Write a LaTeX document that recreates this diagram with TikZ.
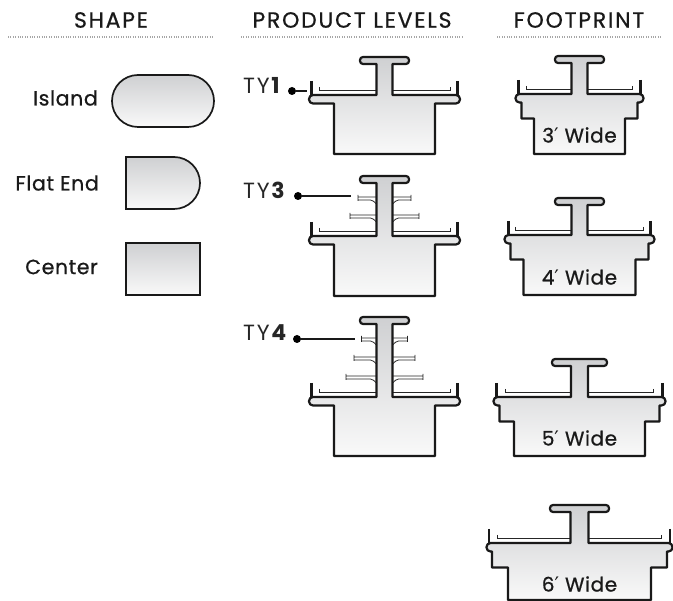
\documentclass[tikz,border=0pt]{standalone}
\usepackage{fontspec}
\setmainfont{Poppins}
\newfontfamily\headfont[LetterSpace=8,FakeBold=0.7]{Poppins}
\newfontfamily\sidefont[LetterSpace=3,FakeBold=0.7]{Poppins}
\newfontfamily\tyfont[LetterSpace=8]{Poppins}
\newfontfamily\primefont{DejaVu Sans}
\definecolor{toneTop}{HTML}{CFD0D2}
\definecolor{toneBot}{HTML}{F9F9F9}
\tikzset{
  headtext/.style={font=\headfont\fontsize{22}{24}\selectfont, text=black!90, inner sep=0pt},
  sidetext/.style={font=\sidefont\fontsize{20.5}{24}\selectfont, text=black!90, anchor=east, inner sep=0pt},
  widetext/.style={font=\sidefont\fontsize{20}{24}\selectfont, text=black!90, inner sep=0pt},
  tytext/.style={font=\tyfont\fontsize{22}{24}\selectfont, text=black!85, anchor=west, inner sep=0pt},
  headrule/.style={gray!70, line width=1.1pt, dash pattern=on 1pt off 1.4pt},
  swatch/.style={draw=black!90, line width=1.7pt, top color=toneTop, bottom color=toneBot},
  unitbody/.style={draw=black!90, line width=2.2pt, top color=toneTop, bottom color=toneBot, line join=round},
  uprightline/.style={black!90, line width=2.2pt},
  trayline/.style={black!85, line width=1pt},
  tydot/.style={circle, fill=black, inner sep=0pt, minimum size=8pt},
  leader/.style={black!90, line width=1.1pt},
}
% #1 top of cap, #2 cap, #3 stem, #4 upright, #5 tray, #6 rim, #7 step, #8 body half widths, #9 bottom
\newcommand{\standunit}[9]{
        \draw[trayline] (-#5,-8) -- (-#5,-4) -- (-#3,-4) (#5,-8) -- (#5,-4) -- (#3,-4);
        \draw[uprightline] (-#4,-14) -- (-#4,0) (#4,-14) -- (#4,0);
        \draw[unitbody] (-#3,0) -- (-#3,-#1+7)
          [rounded corners=3pt] -- (-#2,-#1+7) -- (-#2,-#1) -- (#2,-#1) -- (#2,-#1+7)
          [sharp corners] -- (#3,-#1+7) -- (#3,0)
          [rounded corners=4pt] -- (#6,0) -- (#6,8.5)
          [sharp corners] -- (#7,8.5) -- (#7,24.5) -- (#8,24.5) -- (#8,#9) -- (-#8,#9) -- (-#8,24.5) -- (-#7,24.5) -- (-#7,8.5)
          [rounded corners=4pt] -- (-#6,8.5) -- (-#6,0)
          [sharp corners] -- cycle;
}
% #1 half width, #2 height above the shelf
\newcommand{\standtier}[2]{
        \draw[black!85, line width=0.8pt] (-#1,-#2-2) -- (-#1,-#2+4) (#1,-#2-2) -- (#1,-#2+4)
          (-#1,-#2) -- (-8,-#2) (#1,-#2) -- (8,-#2)
          (-#1,-#2+3) -- (-14,-#2+3) .. controls (-12,-#2+3) and (-10,-#2+5) .. (-8,-#2+7)
          (#1,-#2+3) -- (14,-#2+3) .. controls (12,-#2+3) and (10,-#2+5) .. (8,-#2+7);
}
\begin{document}
\begin{tikzpicture}[x=1pt,y=-1pt]
        \useasboundingbox (0,0) rectangle (673,601);

        % column heads
        \node[headtext] (shapehead) at (111,20) {SHAPE};
        \node[headtext] (levelhead) at (352,20) {PRODUCT LEVELS};
        \node[headtext] (foothead) at (579,20) {FOOTPRINT};
        \draw[headrule] (8,37) -- (213,37);
        \draw[headrule] (241,37) -- (462,37);
        \draw[headrule] (497,37) -- (661,37);

        % shapes
        \node[sidetext] (islandtext) at (98,98) {Island};
        \draw[swatch, rounded corners=26pt] (112,75) rectangle (214,127);
        \node[sidetext] (flattext) at (99,183) {Flat End};
        \draw[swatch] (126,157) [rounded corners=26pt] -- (200,157) -- (200,209) [sharp corners] -- (126,209) -- cycle;
        \node[sidetext] (centertext) at (98,267) {Center};
        \draw[swatch, line width=2pt] (126,243) rectangle (200,295);

        % product levels
        \begin{scope}[shift={(384.5,95)}]
          \standunit{38}{24.5}{8}{73}{65.5}{75.5}{50.5}{50.5}{59}
        \end{scope}
        \begin{scope}[shift={(384.5,236)}]
          \standtier{26.5}{39}
          \standtier{34.5}{21}
          \standunit{60}{24.5}{8}{73}{65.5}{75.5}{50.5}{50.5}{60}
        \end{scope}
        \begin{scope}[shift={(384.5,397)}]
          \standtier{23}{59}
          \standtier{30.5}{40}
          \standtier{38.5}{21}
          \standunit{80}{24.5}{8}{73}{65.5}{75.5}{50.5}{50.5}{59}
        \end{scope}

        \node[tytext] (tyone) at (243,85) {TY\textbf{1}};
        \node[tydot] (tyonedot) at (292,91) {};
        \coordinate (tyoneend) at (307,91);
        \draw[leader] (tyonedot) -- (tyoneend);
        \node[tytext] (tythree) at (243,190) {TY\textbf{3}};
        \node[tydot] (tythreedot) at (298,196) {};
        \coordinate (tythreeend) at (351,196);
        \draw[leader] (tythreedot) -- (tythreeend);
        \node[tytext] (tyfour) at (243,333) {TY\textbf{4}};
        \node[tydot] (tyfourdot) at (297,339) {};
        \coordinate (tyfourend) at (355,339);
        \draw[leader] (tyfourdot) -- (tyfourend);

        % footprints
        \begin{scope}[shift={(579.5,94)}]
          \standunit{38}{24.5}{8}{61}{53}{64}{58}{45.5}{60}
        \end{scope}
        \node[widetext] (wide3) at (579.5,135) {3{\primefont ′} Wide};
        \begin{scope}[shift={(579.5,235)}]
          \standunit{37}{24.5}{8}{71}{64}{75}{69}{56}{60}
        \end{scope}
        \node[widetext] (wide4) at (579.5,277) {4{\primefont ′} Wide};
        \begin{scope}[shift={(579.5,397)}]
          \standunit{38}{27.5}{8.5}{83}{74}{86}{80}{65.5}{59}
        \end{scope}
        \node[widetext] (wide5) at (579.5,438) {5{\primefont ′} Wide};
        \begin{scope}[shift={(579.5,543)}]
          \standunit{38}{29.5}{9}{90.5}{82}{93}{87.5}{71.5}{57}
        \end{scope}
        \node[widetext] (wide6) at (579.5,584) {6{\primefont ′} Wide};
      \end{tikzpicture}
\end{document}
